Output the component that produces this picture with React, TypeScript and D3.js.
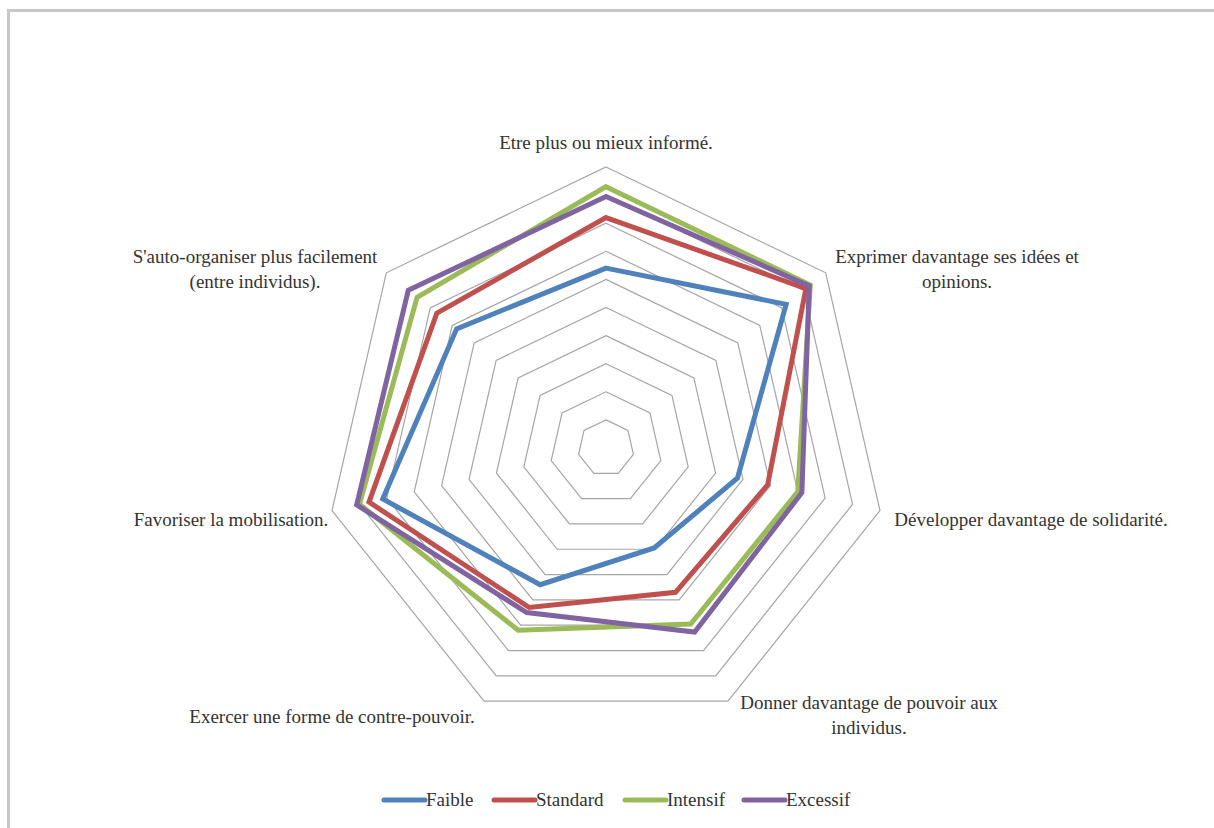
import React from "react";
import * as d3 from "d3";

const categories: string[][] = [
  ["Etre plus ou mieux informé."],
  ["Exprimer davantage ses idées et", "opinions."],
  ["Développer davantage de solidarité."],
  ["Donner davantage de pouvoir aux", "individus."],
  ["Exercer une forme de contre-pouvoir."],
  ["Favoriser la mobilisation."],
  ["S'auto-organiser plus facilement", "(entre individus)."],
];

const seriesNames = ["Faible", "Standard", "Intensif", "Excessif"];
const faible = [6.4, 8.2, 4.8, 3.95, 5.4, 8.15, 6.8];
const standard = [8.2, 9.1, 5.9, 5.7, 6.3, 8.65, 7.7];
const intensif = [9.3, 9.3, 7.0, 6.95, 7.2, 9.0, 8.6];
const excessif = [8.95, 9.25, 7.15, 7.27, 6.5, 9.1, 9.0];
const seriesValues = [faible, standard, intensif, excessif];
const ringTicks = [1, 2, 3, 4, 5, 6, 7, 8, 9, 10];

const colors = ["#4f81bd", "#c0504d", "#9bbb59", "#8064a2"];

// label layout: centre x, first baseline
const labelLayout = [
  [606, 149],
  [957, 263],
  [1031, 526],
  [869, 709],
  [332, 723],
  [231, 526],
  [255, 263],
];

export default function App() {
  const cx = 606;
  const cy = 448;
  const R = 281;
  const n = categories.length;
  const r = d3.scaleLinear().domain([0, 10]).range([0, R]);
  const angle = (i: number) => (i * 2 * Math.PI) / n;

  const radial = d3
    .lineRadial<number>()
    .angle((_, i) => angle(i))
    .radius((d) => r(d))
    .curve(d3.curveLinearClosed);

  const legendX = [384, 494, 625, 744];
  const textStyle: React.CSSProperties = {
    fontFamily: '"Liberation Serif", "Times New Roman", serif',
    fontSize: "19px",
  };

  return (
    <svg
      width={1214}
      height={828}
      style={{ position: "absolute", left: 0, top: 0, background: "#fff" }}
    >
      <rect x={8.5} y={10.5} width={1400} height={1000} fill="#fff" stroke="#c8c8c8" strokeWidth={3} />
      <g transform={`translate(${cx},${cy})`}>
        {ringTicks.map((t) => (
          <path
            key={t}
            d={radial(d3.range(n).map(() => t)) || ""}
            fill="none"
            stroke="#a6a6a6"
            strokeWidth={1.2}
          />
        ))}
        {seriesValues.map((vals, si) => (
          <path
            key={si}
            d={radial(vals) || ""}
            fill="none"
            stroke={colors[si]}
            strokeWidth={5}
            strokeLinejoin="miter"
          />
        ))}
      </g>
      {categories.map((lines, i) => (
        <text
          key={i}
          x={labelLayout[i][0]}
          y={labelLayout[i][1]}
          textAnchor="middle"
          style={textStyle}
          fill="#333"
        >
          {lines.map((l, j) => (
            <tspan key={j} x={labelLayout[i][0]} dy={j === 0 ? 0 : 24.5}>
              {l}
            </tspan>
          ))}
        </text>
      ))}
      {seriesNames.map((name, i) => (
        <g key={name} transform={`translate(${legendX[i]},800)`}>
          <line x1={0} x2={41} y1={0} y2={0} stroke={colors[i]} strokeWidth={5} strokeLinecap="round" />
          <text x={42} y={6} style={textStyle} fill="#333">
            {name}
          </text>
        </g>
      ))}
    </svg>
  );
}
